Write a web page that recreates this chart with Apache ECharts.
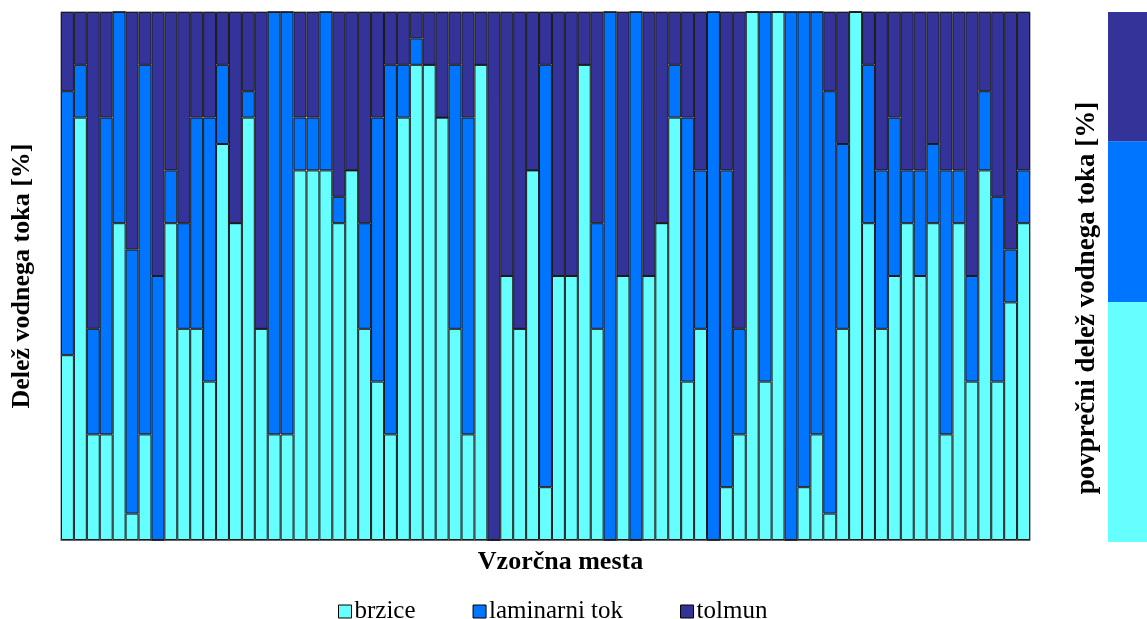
<!DOCTYPE html>
<html>
<head>
<meta charset="utf-8">
<title>Delež vodnega toka</title>
<script src="https://cdn.jsdelivr.net/npm/echarts@6/dist/echarts.min.js"></script>
<style>
html, body { margin: 0; padding: 0; background: #fff; }
#chart { width: 1147px; height: 619px; }
</style>
</head>
<body>
<div id="chart"></div>
<script>
// vzorčna mesta 1..75
var sites = [];
for (var i = 1; i <= 75; i++) sites.push(String(i));

// deleži [%] po vzorčnih mestih
var brzice = [35, 80, 20, 20, 60, 5, 20, 0, 60, 40, 40, 30, 75, 60, 80, 40, 20, 20, 70, 70, 70, 60, 70, 40, 30,
              20, 80, 90, 90, 80, 40, 20, 90, 0, 50, 40, 70, 10, 50, 50, 90, 40, 0, 50, 0, 50, 60, 80, 30, 40,
              0, 10, 20, 100, 30, 100, 0, 10, 20, 5, 40, 100, 60, 40, 50, 60, 50, 60, 20, 60, 30, 70, 30, 45, 60];
var laminarni = [50, 10, 20, 60, 40, 50, 70, 50, 10, 20, 40, 50, 15, 0, 5, 0, 80, 80, 10, 10, 30, 5, 0, 20, 50,
                 70, 10, 5, 0, 0, 50, 60, 0, 0, 0, 0, 0, 80, 0, 0, 0, 20, 100, 0, 100, 0, 0, 10, 50, 30,
                 100, 60, 20, 0, 70, 0, 100, 90, 80, 80, 35, 0, 30, 30, 30, 10, 20, 15, 50, 10, 20, 15, 35, 10, 10];
var tolmun = [15, 10, 60, 20, 0, 45, 10, 50, 30, 40, 20, 20, 10, 40, 15, 60, 0, 0, 20, 20, 0, 35, 30, 40, 20,
              10, 10, 5, 10, 20, 10, 20, 10, 100, 50, 60, 30, 10, 50, 50, 10, 40, 0, 50, 0, 50, 40, 10, 20, 30,
              0, 30, 60, 0, 0, 0, 0, 0, 0, 15, 25, 0, 10, 30, 20, 30, 30, 25, 30, 30, 50, 15, 35, 45, 30];

// povprečni delež (desni stolpec)
var povprecje = [45.3, 30.3, 24.4];

var names = ['brzice', 'laminarni tok', 'tolmun'];
var colors = ['#66ffff', '#0075ff', '#333399'];
var serif = '"Liberation Serif", "Times New Roman", serif';

var chart = echarts.init(document.getElementById('chart'), null, { renderer: 'canvas' });

function siteSeries(idx, data) {
    return {
        name: names[idx],
        type: 'bar',
        stack: 'mesta',
        xAxisIndex: 0,
        yAxisIndex: 0,
        barCategoryGap: '0%',
        itemStyle: { color: colors[idx], borderColor: '#1a1a1a', borderWidth: 1 },
        emphasis: { disabled: true },
        data: data
    };
}

function avgSeries(idx) {
    return {
        name: names[idx],
        type: 'bar',
        stack: 'povp',
        xAxisIndex: 1,
        yAxisIndex: 1,
        barWidth: '100%',
        itemStyle: { color: colors[idx] },
        emphasis: { disabled: true },
        data: [povprecje[idx]]
    };
}

var option = {
    animation: false,
    color: colors,
    grid: [
        { left: 61, top: 12, width: 969, height: 528, show: true, borderColor: '#666', borderWidth: 1, backgroundColor: 'transparent' },
        { left: 1108, top: 12, width: 39, height: 530 }
    ],
    legend: {
        data: names,
        left: 333,
        top: 594,
        icon: 'rect',
        itemWidth: 13,
        itemHeight: 13,
        itemGap: 57,
        itemStyle: { borderColor: '#000', borderWidth: 1 },
        textStyle: { fontFamily: serif, fontSize: 25, color: '#000', padding: [0, 0, 0, -2] }
    },
    graphic: [
        {
            type: 'text',
            x: 1087,
            y: 298,
            rotation: Math.PI / 2,
            style: {
                text: 'povprečni delež vodnega toka [%]',
                font: 'bold 27px ' + serif,
                fill: '#000',
                align: 'center',
                verticalAlign: 'middle'
            }
        }
    ],
    xAxis: [
        {
            gridIndex: 0,
            type: 'category',
            data: sites,
            axisLine: { show: true, lineStyle: { color: '#666' } },
            axisTick: { show: false },
            axisLabel: { show: false },
            name: 'Vzorčna mesta',
            nameLocation: 'middle',
            nameGap: 9,
            nameTextStyle: { fontFamily: serif, fontSize: 26, fontWeight: 'bold', color: '#000', verticalAlign: 'top', padding: [0, 0, 0, 30] }
        },
        {
            gridIndex: 1,
            type: 'category',
            data: ['povprečje'],
            axisLine: { show: false },
            axisTick: { show: false },
            axisLabel: { show: false }
        }
    ],
    yAxis: [
        {
            gridIndex: 0,
            type: 'value',
            min: 0,
            max: 100,
            splitLine: { show: false },
            axisLine: { show: true, lineStyle: { color: '#666' } },
            axisTick: { show: false },
            axisLabel: { show: false },
            name: 'Delež vodnega toka [%]',
            nameLocation: 'middle',
            nameGap: 26,
            nameRotate: 90,
            nameTextStyle: { fontFamily: serif, fontSize: 26, fontWeight: 'bold', color: '#000' }
        },
        {
            gridIndex: 1,
            type: 'value',
            min: 0,
            max: 100,
            splitLine: { show: false },
            axisLine: { show: false },
            axisTick: { show: false },
            axisLabel: { show: false }
        }
    ],
    series: [
        siteSeries(0, brzice),
        siteSeries(1, laminarni),
        siteSeries(2, tolmun),
        avgSeries(0),
        avgSeries(1),
        avgSeries(2)
    ]
};

chart.setOption(option);
</script>
</body>
</html>
